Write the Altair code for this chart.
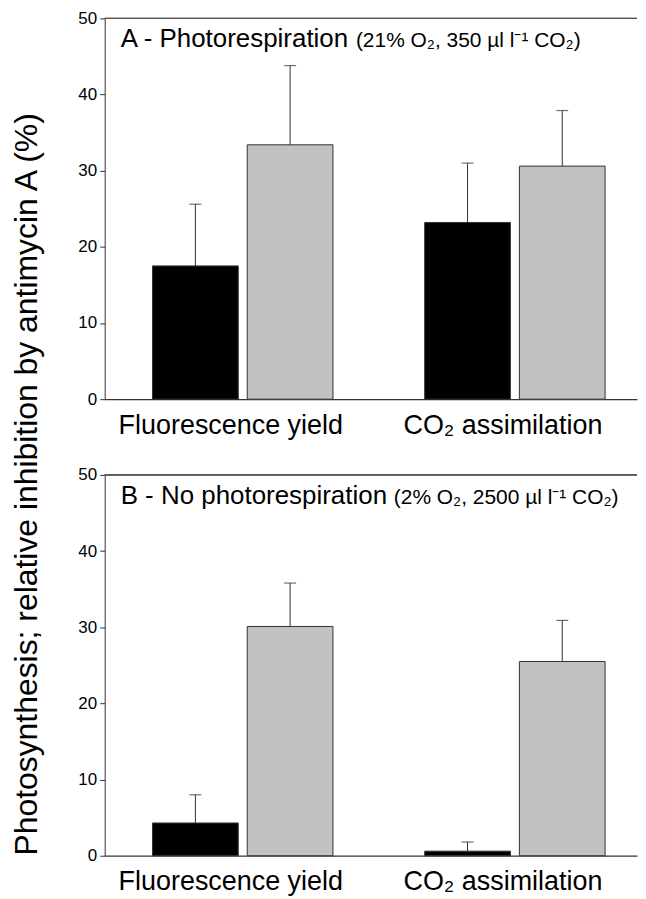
import altair as alt
import pandas as pd

# ---- data ----
categories = ["Fluorescence yield", "CO₂ assimilation"]
series = ["filled", "stippled"]

# Panel A: photorespiration
a_filled = [17.5, 23.2]
a_filled_err = [8.1, 7.8]
a_stippled = [33.4, 30.6]
a_stippled_err = [10.4, 7.3]

# Panel B: no photorespiration
b_filled = [4.3, 0.6]
b_filled_err = [3.7, 1.2]
b_stippled = [30.1, 25.5]
b_stippled_err = [5.7, 5.4]

y_ticks = [0, 10, 20, 30, 40, 50]

a_label = ["A - Photorespiration"]
a_cond = ["(21% O₂, 350 µl l⁻¹ CO₂)"]
b_label = ["B - No photorespiration"]
b_cond = ["(2% O₂, 2500 µl l⁻¹ CO₂)"]
y_title = "Photosynthesis; relative inhibition by antimycin A (%)"

FONT = "Liberation Sans"
W, H = 534, 382


def table(filled, filled_err, stippled, stippled_err):
    rows = []
    for i, c in enumerate(categories):
        rows.append({"cat": c, "ser": series[0], "v": filled[i], "up": filled[i] + filled_err[i]})
        rows.append({"cat": c, "ser": series[1], "v": stippled[i], "up": stippled[i] + stippled_err[i]})
    return pd.DataFrame(rows)


def panel(df, label, cond, cond_dx, show_title):
    xenc = alt.X(
        "cat:N",
        sort=categories,
        scale=alt.Scale(paddingInner=0.337, paddingOuter=0.1465, align=0.6),
        axis=alt.Axis(
            title=None, labelAngle=0, labelFontSize=27, labelFont=FONT, labelColor="#000",
            labelOffset=-12, ticks=False, labelPadding=13, labelLimit=0,
            domainColor="#333", domainWidth=1.2,
        ),
    )
    axis_kw = dict(
        values=y_ticks, tickSize=5, labelFontSize=17, labelFont=FONT, labelColor="#000",
        grid=False, domainColor="#333", tickColor="#333", labelPadding=3,
    )
    if show_title:
        yaxis = alt.Axis(
            title=y_title, titleFontSize=32, titleFont=FONT, titleFontWeight="normal",
            titleColor="#000", titleY=467, titlePadding=35, **axis_kw,
        )
    else:
        yaxis = alt.Axis(title=None, **axis_kw)
    yenc = alt.Y("v:Q", scale=alt.Scale(domain=[0, 50], nice=False), axis=yaxis)
    xoff = alt.XOffset("ser:N", sort=series, scale=alt.Scale(paddingInner=0.095, paddingOuter=0))
    base = alt.Chart(df)
    bars = base.mark_bar(strokeWidth=1, stroke="#333").encode(
        x=xenc, xOffset=xoff, y=yenc,
        color=alt.Color("ser:N", scale=alt.Scale(domain=series, range=["#000000", "#c2c2c2"]), legend=None),
    )
    err = base.mark_rule(color="#333", strokeWidth=1).encode(
        x=xenc, xOffset=xoff, y="v:Q", y2="up:Q"
    )
    cap = base.mark_tick(color="#333", thickness=1.2, size=12).encode(
        x=xenc, xOffset=xoff, y="up:Q"
    )
    top = base.mark_rule(color="#555", strokeWidth=1).encode(y=alt.datum(50))
    t1 = alt.Chart(pd.DataFrame({"t": label})).mark_text(
        align="left", baseline="alphabetic", fontSize=26, font=FONT, color="#000"
    ).encode(x=alt.value(16), y=alt.value(29), text="t:N")
    t2 = alt.Chart(pd.DataFrame({"t": cond})).mark_text(
        align="left", baseline="alphabetic", fontSize=21, font=FONT, color="#000"
    ).encode(x=alt.value(cond_dx), y=alt.value(29), text="t:N")
    return alt.layer(bars, err, cap, top, t1, t2).properties(width=W, height=H)


pa = panel(table(a_filled, a_filled_err, a_stippled, a_stippled_err), a_label, a_cond, 252, True)
pb = panel(table(b_filled, b_filled_err, b_stippled, b_stippled_err), b_label, b_cond, 290, False)

chart = alt.vconcat(pa, pb, spacing=76, bounds="flush").properties(
    padding={"left": 2, "top": 0, "right": 0, "bottom": 0}
).configure_view(stroke=None)

chart.save("out.html", embed_options={"renderer": "svg", "actions": False})
